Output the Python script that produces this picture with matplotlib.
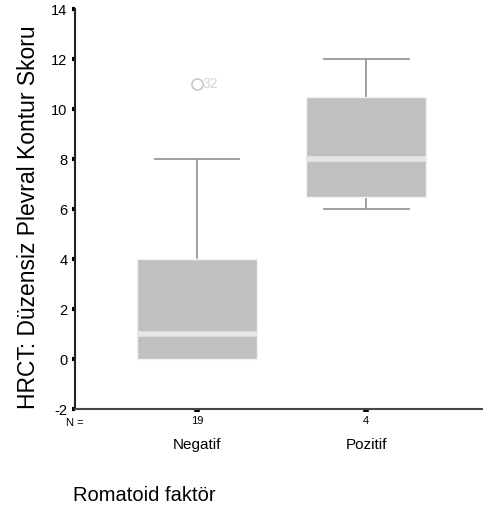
import matplotlib
matplotlib.use('Agg')
import matplotlib.pyplot as plt

plt.rcParams['font.family'] = ['Liberation Sans', 'DejaVu Sans']

# values
groups = ['Negatif', 'Pozitif']
counts = [19, 4]
medians = [1, 8]
q1s = [0, 6.5]
q3s = [4, 10.5]
whis_lo = [0, 6]
whis_hi = [8, 12]
outliers = [[11], []]
outlier_ids = [['32'], []]
yticks = [-2, 0, 2, 4, 6, 8, 10, 12, 14]

stats = []
for i in range(len(groups)):
    stats.append(dict(med=medians[i], q1=q1s[i], q3=q3s[i],
                      whislo=whis_lo[i], whishi=whis_hi[i],
                      fliers=outliers[i], label=groups[i]))

fig = plt.figure(figsize=(4.83, 5.11), dpi=100)
ax = fig.add_axes([75/483, 102/511, 408/483, 400/511])

pos = [1, 2]
ax.bxp(stats, positions=pos, widths=0.71, patch_artist=True,
       boxprops=dict(facecolor='#c0c0c0', edgecolor='#f2f2f2', linewidth=1, zorder=3),
       medianprops=dict(color='#e6e6e6', linewidth=4, zorder=4),
       whiskerprops=dict(color='#999999', linewidth=1.3, zorder=2),
       capprops=dict(color='#999999', linewidth=1.3, zorder=2),
       capwidths=0.5,
       flierprops=dict(marker='o', markerfacecolor='none', markeredgecolor='#c8c8c8',
                       markersize=8, markeredgewidth=1.2))

for i in range(len(groups)):
    for v, lab in zip(outliers[i], outlier_ids[i]):
        ax.annotate(lab, (pos[i], v), xytext=(4, 0), textcoords='offset points',
                    va='center', ha='left', fontsize=10, color='#d4d4d4')

ax.set_xlim(0.278, 2.69)
ax.set_ylim(-2, 14)
ax.set_yticks(yticks)
ax.set_yticklabels([str(t) for t in yticks], fontsize=10.5)
ax.tick_params(axis='y', direction='out', length=2.5, width=3, pad=3, color='black')

ax.set_xticks(pos)
ax.set_xticklabels([str(c) for c in counts], fontsize=8)
ax.tick_params(axis='x', direction='out', length=2, width=4, pad=3, color='black')

for i in range(len(groups)):
    ax.text(pos[i], -0.09, groups[i], transform=ax.get_xaxis_transform(),
            ha='center', va='center', fontsize=11)
ax.text(0.278, -0.035, 'N =', transform=ax.get_xaxis_transform(),
        ha='center', va='center', fontsize=8)

ax.spines['top'].set_visible(False)
ax.spines['right'].set_visible(False)
ax.spines['left'].set_linewidth(1.5)
ax.spines['bottom'].set_linewidth(1.5)
ax.spines['left'].set_color('#222222')
ax.spines['bottom'].set_color('#444444')

fig.text(29/483, 1 - 217/511, 'HRCT: Düzensiz Plevral Kontur Skoru', rotation=90,
         ha='center', va='center', fontsize=16.5)
fig.text(73/483, 1 - 495/511, 'Romatoid faktör', ha='left', va='center', fontsize=14.5)

fig.savefig('out.png', dpi=100)
